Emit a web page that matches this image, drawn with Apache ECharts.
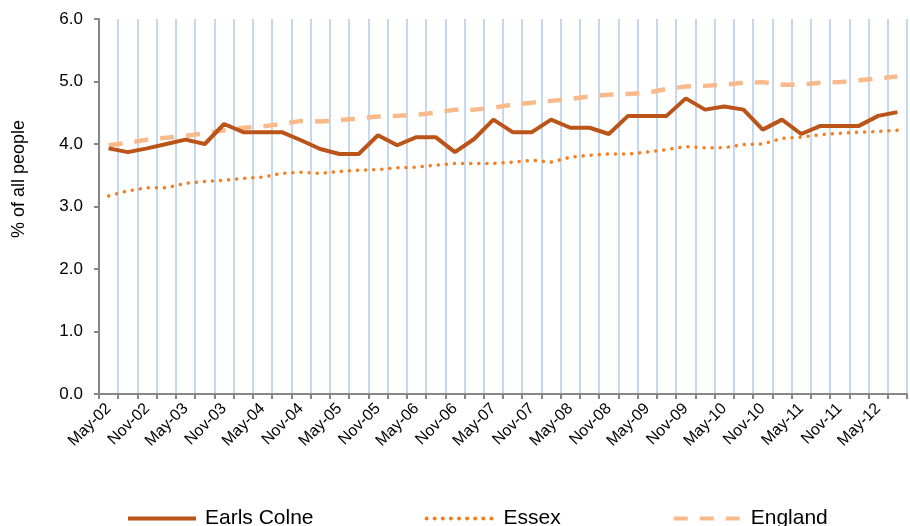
<!DOCTYPE html>
<html>
<head>
<meta charset="utf-8">
<script src="https://cdn.jsdelivr.net/npm/echarts@6/dist/echarts.min.js"></script>
<style>
  html, body { margin: 0; padding: 0; background: #fff; }
  #chart { width: 910px; height: 526px; }
</style>
</head>
<body>
<div id="chart"></div>
<script>
  // quarterly points, labelled every other one on the axis
  var quarters = [
    'May-02', 'Aug-02', 'Nov-02', 'Feb-03', 'May-03', 'Aug-03', 'Nov-03', 'Feb-04',
    'May-04', 'Aug-04', 'Nov-04', 'Feb-05', 'May-05', 'Aug-05', 'Nov-05', 'Feb-06',
    'May-06', 'Aug-06', 'Nov-06', 'Feb-07', 'May-07', 'Aug-07', 'Nov-07', 'Feb-08',
    'May-08', 'Aug-08', 'Nov-08', 'Feb-09', 'May-09', 'Aug-09', 'Nov-09', 'Feb-10',
    'May-10', 'Aug-10', 'Nov-10', 'Feb-11', 'May-11', 'Aug-11', 'Nov-11', 'Feb-12',
    'May-12', 'Aug-12'
  ];

  var earlsColne = [
    3.93, 3.87, 3.93, 4.00, 4.07, 4.00, 4.32, 4.19, 4.19, 4.19, 4.06, 3.92,
    3.84, 3.84, 4.14, 3.98, 4.11, 4.11, 3.87, 4.08, 4.39, 4.19, 4.19, 4.39,
    4.26, 4.26, 4.16, 4.45, 4.45, 4.45, 4.73, 4.55, 4.60, 4.55, 4.23, 4.39,
    4.16, 4.29, 4.29, 4.29, 4.45, 4.51
  ];

  var essex = [
    3.17, 3.25, 3.30, 3.30, 3.37, 3.40, 3.42, 3.45, 3.47, 3.53, 3.55, 3.53,
    3.56, 3.58, 3.59, 3.62, 3.63, 3.66, 3.69, 3.69, 3.69, 3.71, 3.74, 3.71,
    3.79, 3.82, 3.84, 3.84, 3.87, 3.91, 3.96, 3.94, 3.94, 3.99, 4.00, 4.09,
    4.11, 4.15, 4.17, 4.19, 4.20, 4.22
  ];

  var england = [
    3.98, 4.02, 4.07, 4.10, 4.13, 4.17, 4.22, 4.26, 4.28, 4.32, 4.37, 4.36,
    4.38, 4.41, 4.44, 4.45, 4.47, 4.50, 4.55, 4.55, 4.58, 4.63, 4.66, 4.69,
    4.72, 4.76, 4.79, 4.80, 4.82, 4.88, 4.92, 4.93, 4.95, 4.98, 4.99, 4.95,
    4.95, 4.98, 4.99, 5.02, 5.05, 5.08
  ];

  var font = '"Liberation Sans", Arial, sans-serif';
  var axisGrey = '#868686';

  var chart = echarts.init(document.getElementById('chart'));

  var option = {
    animation: false,
    textStyle: { fontFamily: font, color: '#000' },
    grid: {
      left: 99,
      right: 3,
      top: 19,
      bottom: 132
    },
    legend: {
      left: 121,
      top: 503,
      itemWidth: 68,
      itemHeight: 14,
      itemGap: 111,
      // hide the marker dot, keep only the line sample
      itemStyle: { opacity: 0 },
      lineStyle: { width: 4 },
      textStyle: { fontSize: 21, fontFamily: font, color: '#000', padding: [0, 0, 0, 4] },
      data: ['Earls Colne', 'Essex', 'England']
    },
    graphic: [{
      type: 'text',
      left: 10,
      top: 120,
      rotation: Math.PI / 2,
      style: {
        text: '% of all people',
        fontSize: 18,
        fontFamily: font,
        fill: '#000'
      }
    }],
    xAxis: {
      type: 'category',
      data: quarters,
      boundaryGap: true,
      axisLine: { lineStyle: { color: axisGrey, width: 2 } },
      axisTick: {
        show: true,
        interval: 0,
        length: 5,
        lineStyle: { color: axisGrey, width: 2 }
      },
      axisLabel: {
        interval: 1,
        rotate: 45,
        fontSize: 16,
        margin: 12,
        color: '#000'
      },
      splitLine: {
        show: true,
        interval: 0,
        lineStyle: { color: '#C6D8EE', width: 2 }
      }
    },
    yAxis: {
      type: 'value',
      min: 0,
      max: 6,
      interval: 1,
      axisLine: { show: true, lineStyle: { color: axisGrey, width: 2 } },
      axisTick: { show: true, length: 5, lineStyle: { color: axisGrey, width: 2 } },
      axisLabel: {
        fontSize: 17,
        margin: 16,
        color: '#000',
        formatter: function (v) { return v.toFixed(1); }
      },
      splitLine: { show: false }
    },
    series: [
      {
        name: 'Earls Colne',
        type: 'line',
        data: earlsColne,
        symbol: 'none',
        z: 4,
        lineStyle: { color: '#BA5418', width: 4 },
        itemStyle: { color: '#BA5418' }
      },
      {
        name: 'Essex',
        type: 'line',
        data: essex,
        symbol: 'none',
        z: 3,
        lineStyle: { color: '#F47E20', width: 3.5, type: [0.1, 8], cap: 'round' },
        itemStyle: { color: '#F47E20' }
      },
      {
        name: 'England',
        type: 'line',
        data: england,
        symbol: 'none',
        z: 2,
        lineStyle: { color: '#F9B98A', width: 4.5, type: [14, 12] },
        itemStyle: { color: '#F9B98A' }
      }
    ]
  };

  chart.setOption(option);
</script>
</body>
</html>
